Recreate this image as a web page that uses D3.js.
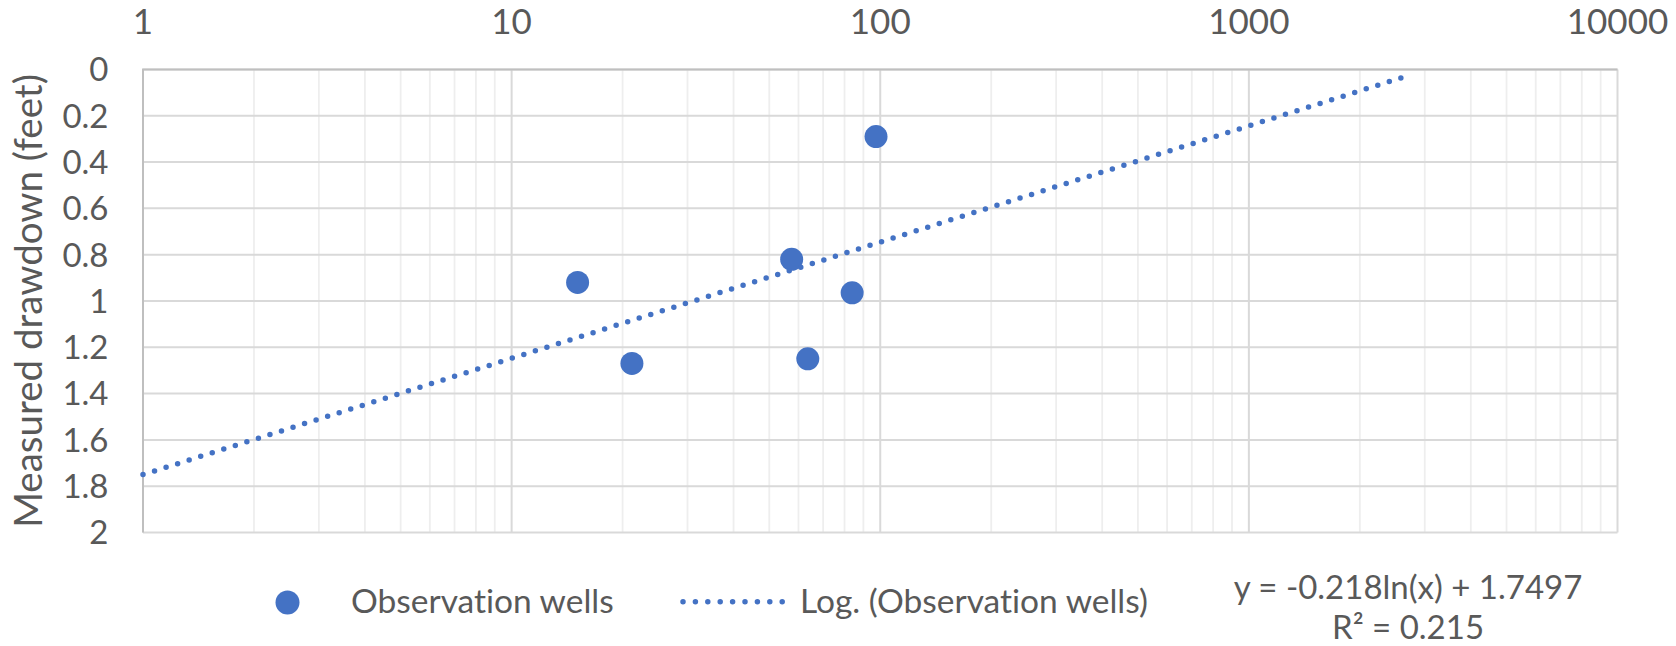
<!DOCTYPE html>
<meta charset="utf-8">
<style>
body { margin: 0; background: white; }
svg { display: block; font-family: Lato, "Open Sans", sans-serif; font-variant-ligatures: none; }
.tick-label { fill: #595959; }
</style>
<body>
<svg width="1676" height="646"></svg>
<script src="https://d3js.org/d3.v7.min.js"></script>
<script>

// observation wells (distance, drawdown)
var wellDistance = [15.1, 21.2, 57.5, 63.6, 83.9, 97.4];
var wellDrawdown = [0.92, 1.27, 0.82, 1.25, 0.965, 0.29];

// log trendline end points: y = -0.218ln(x) + 1.7497
var trendDistance = [1, 2680];
var trendDrawdown = [1.7497, 0.029];

var xTickValues = [1, 10, 100, 1000, 10000];
var xTickLabels = ["1", "10", "100", "1000", "10000"];
var yTickValues = [0, 0.2, 0.4, 0.6, 0.8, 1, 1.2, 1.4, 1.6, 1.8, 2];
var yTickLabels = ["0", "0.2", "0.4", "0.6", "0.8", "1", "1.2", "1.4", "1.6", "1.8", "2"];

var yTitle = "Measured drawdown (feet)";
var seriesName = "Observation wells";
var trendName = "Log. (Observation wells)";
var equationLines = ["y = -0.218ln(x) + 1.7497", "R\u00b2 = 0.215"];

var blue = "#4472c4";
var plotLeft = 143, plotRight = 1617.5, plotTop = 69.4, plotBottom = 532.5;

var svg = d3.select("svg");

var x = d3.scaleLog().domain([1, 10000]).range([plotLeft, plotRight]);
var y = d3.scaleLinear().domain([0, 2]).range([plotTop, plotBottom]);

// minor vertical gridlines
var grid = svg.append("g");
grid.selectAll(".minor")
    .data(x.ticks().filter(function(d) { return xTickValues.indexOf(d) < 0; }))
  .enter().append("line")
    .attr("class", "minor")
    .attr("x1", function(d) { return x(d); })
    .attr("x2", function(d) { return x(d); })
    .attr("y1", plotTop).attr("y2", plotBottom)
    .attr("stroke", "#eeeeee")
    .attr("stroke-width", 1.8);

// major gridlines
grid.selectAll(".hmajor")
    .data(yTickValues)
  .enter().append("line")
    .attr("class", "hmajor")
    .attr("x1", plotLeft).attr("x2", plotRight)
    .attr("y1", function(d) { return y(d); })
    .attr("y2", function(d) { return y(d); })
    .attr("stroke", "#d9d9d9")
    .attr("stroke-width", 2);

grid.selectAll(".vmajor")
    .data(xTickValues)
  .enter().append("line")
    .attr("class", "vmajor")
    .attr("x1", function(d) { return x(d); })
    .attr("x2", function(d) { return x(d); })
    .attr("y1", plotTop).attr("y2", plotBottom)
    .attr("stroke", "#d9d9d9")
    .attr("stroke-width", 2);

// axis lines (x axis sits on top because y is reversed)
svg.append("line")
    .attr("x1", plotLeft).attr("x2", plotLeft).attr("y1", plotTop).attr("y2", plotBottom)
    .attr("stroke", "#bfbfbf").attr("stroke-width", 2);
svg.append("line")
    .attr("x1", plotLeft - 1).attr("x2", plotRight).attr("y1", plotTop).attr("y2", plotTop)
    .attr("stroke", "#bfbfbf").attr("stroke-width", 2);

// tick labels
svg.append("g").selectAll("text")
    .data(xTickValues)
  .enter().append("text")
    .attr("class", "tick-label")
    .attr("x", function(d) { return x(d); })
    .attr("y", 33.5)
    .attr("text-anchor", "middle")
    .attr("font-size", "35px")
    .text(function(d, i) { return xTickLabels[i]; });

svg.append("g").selectAll("text")
    .data(yTickValues)
  .enter().append("text")
    .attr("class", "tick-label")
    .attr("x", 108.5)
    .attr("y", function(d) { return y(d); })
    .attr("dy", "0.36em")
    .attr("text-anchor", "end")
    .attr("font-size", "33px")
    .text(function(d, i) { return yTickLabels[i]; });

// axis title
svg.append("text")
    .attr("class", "tick-label")
    .attr("transform", "translate(42," + ((plotTop + plotBottom) / 2) + ") rotate(-90)")
    .attr("text-anchor", "middle")
    .attr("font-size", "38.5px")
    .text(yTitle);

// points
var wells = wellDistance.map(function(d, i) { return {x: d, y: wellDrawdown[i]}; });
svg.append("g").selectAll("circle")
    .data(wells)
  .enter().append("circle")
    .attr("cx", function(d) { return x(d.x); })
    .attr("cy", function(d) { return y(d.y); })
    .attr("r", 11.5)
    .attr("fill", blue);

// trendline, dotted
var trend = trendDistance.map(function(d, i) { return [d, trendDrawdown[i]]; });
svg.append("path")
    .datum(trend)
    .attr("d", d3.line().x(function(d) { return x(d[0]); }).y(function(d) { return y(d[1]); }))
    .attr("fill", "none")
    .attr("stroke", blue)
    .attr("stroke-width", 5.5)
    .attr("stroke-linecap", "round")
    .attr("stroke-dasharray", "0 12.1");

// legend
var legend = svg.append("g");
legend.append("circle")
    .attr("cx", 287.5).attr("cy", 602.5).attr("r", 12)
    .attr("fill", blue);
legend.append("text")
    .attr("class", "tick-label")
    .attr("x", 351).attr("y", 612.5)
    .attr("font-size", "33.5px")
    .text(seriesName);
legend.append("line")
    .attr("x1", 683).attr("x2", 785).attr("y1", 601.7).attr("y2", 601.7)
    .attr("stroke", blue)
    .attr("stroke-width", 5.5)
    .attr("stroke-linecap", "round")
    .attr("stroke-dasharray", "0 12.4");
legend.append("text")
    .attr("class", "tick-label")
    .attr("x", 800).attr("y", 612.5)
    .attr("font-size", "33.5px")
    .text(trendName);

// trendline equation
svg.append("g").selectAll("text")
    .data(equationLines)
  .enter().append("text")
    .attr("class", "tick-label")
    .attr("x", 1408)
    .attr("y", function(d, i) { return 598.5 + i * 40.5; })
    .attr("text-anchor", "middle")
    .attr("font-size", "33px")
    .text(function(d) { return d; });

</script>
</body>
